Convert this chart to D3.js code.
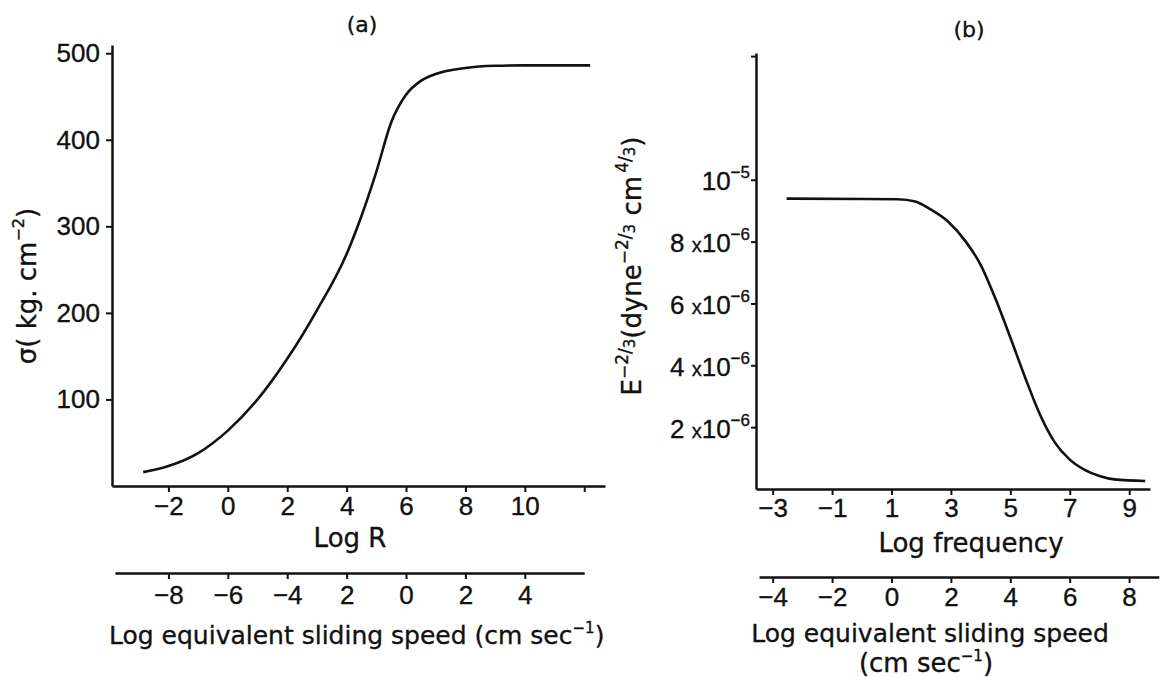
<!DOCTYPE html>
<html lang="en">
<head>
<meta charset="UTF-8">
<script src="https://cdn.jsdelivr.net/npm/d3@7"></script>
<style>
  body { margin: 0; background: #fff; }
  svg { display: block; font-family: "DejaVu Sans", sans-serif; }
  svg text { stroke: #111; stroke-width: 0.35px; }
</style>
<title>Friction and loss compliance</title>
</head>
<body>
<svg id="fig" width="1166" height="677"></svg>
<script>
// --- panel (a): sigma against Log R ---
const logR = [-2.85, -2, -1, 0, 1, 2, 3, 4, 4.5, 5, 5.5, 6, 6.5, 7, 8, 9, 10, 12.2];
const sigma = [16, 23, 38, 64, 100, 147, 203, 268, 312, 363, 420, 452, 468, 476, 483, 485.5, 486, 486];
const sigmaTicks = [100, 200, 300, 400, 500];
const logRTicks = [-2, 0, 2, 4, 6, 8, 10, 12];
const logRLabels = ["−2", "0", "2", "4", "6", "8", "10", ""];
const speedTicksA = [-8, -6, -4, -2, 0, 2, 4];
const speedLabelsA = ["−8", "−6", "−4", "2", "0", "2", "4"]; // printed as in the original

// --- panel (b): E^-2/3 (units of 1e-6) against Log frequency ---
const logF = [-2.53, 0, 1.2, 1.8, 2.3, 2.9, 3.5, 4.0, 4.5, 5.0, 5.5, 6.0, 6.5, 7.0, 7.5, 8.0, 8.5, 9.54];
const compliance = [9.39, 9.38, 9.37, 9.3, 9.05, 8.65, 8.0, 7.25, 6.15, 4.9, 3.6, 2.4, 1.5, 0.95, 0.62, 0.42, 0.31, 0.26];
const complTicks = [2, 4, 6, 8, 10, 14];
const complCoef = ["2", "4", "6", "8", "", ""];
const complExp = ["−6", "−6", "−6", "−6", "−5", ""];
const logFTicks = [-3, -1, 1, 3, 5, 7, 9];
const logFLabels = ["−3", "−1", "1", "3", "5", "7", "9"];
const speedTicksB = [-4, -2, 0, 2, 4, 6, 8];
const speedLabelsB = ["−4", "−2", "0", "2", "4", "6", "8"];

const ink = "#111";
const fs = 26;
const svg = d3.select("#fig");

// scales
const xA = d3.scaleLinear().domain([-3.9, 12.7]).range([112, 605]);
const xA2 = d3.scaleLinear().domain([-9.8, 6.0]).range([xA(-3.8), xA(12.0)]);
const yA = d3.scaleLinear().domain([0, 509.5]).range([486, 45]);

const xB = d3.scaleLinear().domain([-3.56, 9.7]).range([756, 1150]);
const xB2 = d3.scaleLinear().domain([-4.46, 9.0]).range([759, 1158.8]);
const yB = d3.scaleLinear().domain([0, 14.1]).range([489, 53]);

// styles every axis the same way
const styleAxis = (g) => {
    g.select(".domain").attr("stroke", ink).attr("stroke-width", 2.5);
    g.selectAll(".tick line").attr("stroke", ink).attr("stroke-width", 2);
    g.selectAll(".tick text").attr("fill", ink).attr("font-size", fs);
};

const bottomAxis = (scale, ticks, labels, y, pad) => {
    const g = svg.append("g")
        .attr("transform", `translate(0,${y})`)
        .call(d3.axisBottom(scale).tickValues(ticks)
            .tickFormat((d, i) => labels[i])
            .tickSize(6).tickSizeOuter(0).tickPadding(pad));
    styleAxis(g);
    return g;
};

// appends runs of text (with raised / lowered pieces) to a text element
const addRuns = (text, runs) => {
    runs.forEach(r => {
        text.append("tspan")
            .attr("font-size", r.size || fs)
            .attr("dy", r.dy || 0)
            .text(r.t);
    });
};
const frac = (a, b, up) => [
    { t: a, size: 17, dy: up },
    { t: "/", size: 17, dy: 3 },
    { t: b, size: 15, dy: 4 }
];

// ---------- panel (a) ----------
const gyA = svg.append("g")
    .attr("transform", `translate(${xA(-3.9)},0)`)
    .call(d3.axisLeft(yA).tickValues(sigmaTicks).tickSize(6).tickSizeOuter(0).tickPadding(6));
styleAxis(gyA);

bottomAxis(xA, logRTicks, logRLabels, 486, 5);
bottomAxis(xA2, speedTicksA, speedLabelsA, 573, 7);

svg.append("path")
    .datum(logR.map((d, i) => [d, sigma[i]]))
    .attr("fill", "none")
    .attr("stroke", ink)
    .attr("stroke-width", 2.6)
    .attr("d", d3.line().x(d => xA(d[0])).y(d => yA(d[1])).curve(d3.curveMonotoneX));

svg.append("text").attr("x", 362).attr("y", 32).attr("text-anchor", "middle")
    .attr("font-size", 22).attr("fill", ink).text("(a)");

svg.append("text").attr("x", 350).attr("y", 547).attr("text-anchor", "middle")
    .attr("font-size", fs).attr("fill", ink).text("Log R");

const xlabA = svg.append("text").attr("x", 109).attr("y", 644)
    .attr("font-size", 25).attr("fill", ink);
addRuns(xlabA, [
    { t: "Log equivalent sliding speed (cm sec", size: 25 },
    { t: "−1", size: 15, dy: -11 },
    { t: ")", size: 25, dy: 11 }
]);

const ylabA = svg.append("text")
    .attr("transform", "translate(36,286) rotate(-90)")
    .attr("text-anchor", "middle").attr("fill", ink).attr("font-size", fs);
addRuns(ylabA, [
    { t: "σ( kg. cm" },
    { t: "−2", size: 16, dy: -12 },
    { t: ")", dy: 12 }
]);

// ---------- panel (b) ----------
const gyB = svg.append("g")
    .attr("transform", `translate(${xB(-3.56)},0)`)
    .call(d3.axisLeft(yB).tickValues(complTicks).tickFormat(() => "")
        .tickSize(5).tickSizeOuter(0));
styleAxis(gyB);
gyB.selectAll(".tick").each(function (d, i) {
    if (!complExp[i]) return;
    const t = d3.select(this).append("text")
        .attr("x", -6).attr("y", 10)
        .attr("text-anchor", "end").attr("fill", ink).attr("font-size", fs);
    const runs = [];
    if (complCoef[i]) runs.push({ t: complCoef[i] + " " }, { t: "x", size: 20 });
    runs.push({ t: "10", size: fs }, { t: complExp[i], size: 17, dy: -12 });
    addRuns(t, runs);
});

bottomAxis(xB, logFTicks, logFLabels, 489, 4);
bottomAxis(xB2, speedTicksB, speedLabelsB, 577, 5);

svg.append("path")
    .datum(logF.map((d, i) => [d, compliance[i]]))
    .attr("fill", "none")
    .attr("stroke", ink)
    .attr("stroke-width", 2.6)
    .attr("d", d3.line().x(d => xB(d[0])).y(d => yB(d[1])).curve(d3.curveMonotoneX));

svg.append("text").attr("x", 969).attr("y", 37).attr("text-anchor", "middle")
    .attr("font-size", 22).attr("fill", ink).text("(b)");

svg.append("text").attr("x", 971).attr("y", 552).attr("text-anchor", "middle")
    .attr("font-size", fs).attr("fill", ink).text("Log  frequency");

svg.append("text").attr("x", 930).attr("y", 642).attr("text-anchor", "middle")
    .attr("font-size", 25).attr("fill", ink).text("Log equivalent sliding speed");

const unitB = svg.append("text").attr("x", 926).attr("y", 672).attr("text-anchor", "middle")
    .attr("font-size", fs).attr("fill", ink);
addRuns(unitB, [
    { t: "(cm  sec" },
    { t: "−1", size: 15, dy: -11 },
    { t: ")", dy: 11 }
]);

const ylabB = svg.append("text")
    .attr("transform", "translate(641,266) rotate(-90)")
    .attr("text-anchor", "middle").attr("fill", ink).attr("font-size", fs);
addRuns(ylabB, [
    { t: "E" },
    { t: "−", size: 17, dy: -11 },
    ...frac("2", "3", -2),
    { t: "(dyne", dy: 6 },
    { t: "−", size: 17, dy: -11 },
    ...frac("2", "3", -2),
    { t: " cm", dy: 6 },
    { t: " ", size: 10 },
    ...frac("4", "3", -13),
    { t: ")", dy: 6 }
]);
</script>
</body>
</html>
